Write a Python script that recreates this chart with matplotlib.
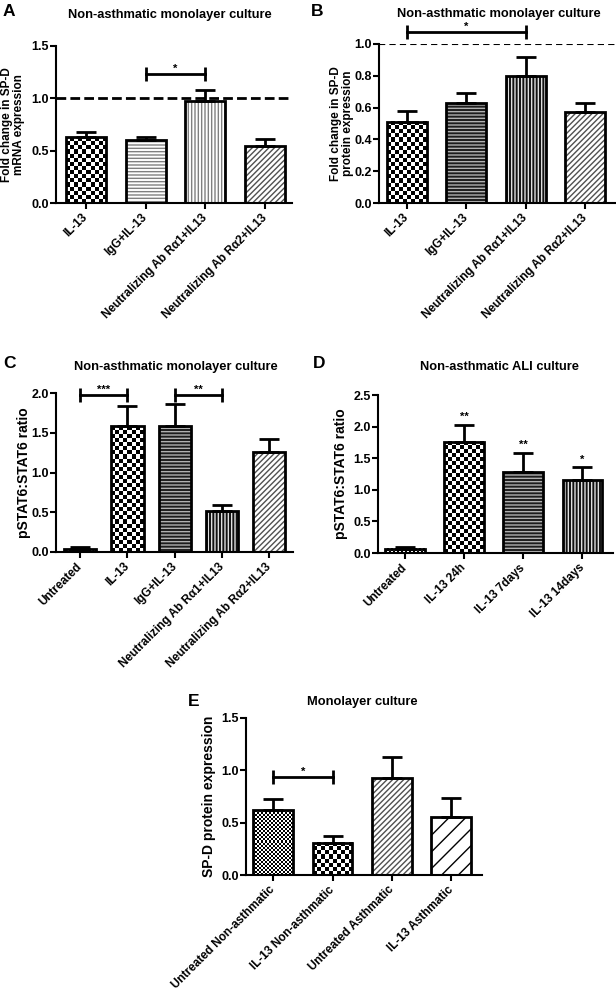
import numpy as np
import matplotlib
matplotlib.use('Agg')
import matplotlib.pyplot as plt

plt.rcParams['font.family'] = ['Liberation Sans', 'DejaVu Sans']
plt.rcParams['font.weight'] = 'bold'
plt.rcParams['axes.labelweight'] = 'bold'
plt.rcParams['hatch.linewidth'] = 1.0

LARGURA, ALTURA = 616, 992  # tamanho da figura em pixels

# --- dados ---
rotulos_a = ['IL-13', 'IgG+IL-13', 'Neutralizing Ab R\u03b11+IL13', 'Neutralizing Ab R\u03b12+IL13']
valores_a = [0.63, 0.60, 0.97, 0.54]
erros_a = [0.05, 0.03, 0.11, 0.07]

rotulos_b = ['IL-13', 'IgG+IL-13', 'Neutralizing Ab R\u03b11+IL13', 'Neutralizing Ab R\u03b12+IL13']
valores_b = [0.51, 0.63, 0.80, 0.57]
erros_b = [0.07, 0.06, 0.12, 0.06]

rotulos_c = ['Untreated', 'IL-13', 'IgG+IL-13', 'Neutralizing Ab R\u03b11+IL13', 'Neutralizing Ab R\u03b12+IL13']
valores_c = [0.04, 1.58, 1.59, 0.52, 1.26]
erros_c = [0.02, 0.26, 0.27, 0.07, 0.16]

rotulos_d = ['Untreated', 'IL-13 24h', 'IL-13 7days', 'IL-13 14days']
valores_d = [0.07, 1.76, 1.28, 1.15]
erros_d = [0.02, 0.27, 0.31, 0.21]
estrelas_d = ['', '**', '**', '*']

rotulos_e = ['Untreated Non-asthmatic', 'IL-13 Non-asthmatic', 'Untreated Asthmatic', 'IL-13 Asthmatic']
valores_e = [0.62, 0.31, 0.93, 0.55]
erros_e = [0.11, 0.06, 0.20, 0.19]

# padroes de preenchimento das barras
ESTILOS = {
    'xadrez': dict(celula=4),
    'xadrez_fino': dict(celula=2),
    'horiz_claro': dict(facecolor='white', hatch='-----', cor='#808080'),
    'vert_claro': dict(facecolor='white', hatch='|||||', cor='#808080'),
    'horiz_escuro': dict(facecolor='#1c1c1c', hatch='-----', cor='#b0b0b0'),
    'vert_escuro': dict(facecolor='#111111', hatch='|||||', cor='#e0e0e0'),
    'diagonal': dict(facecolor='white', hatch='//////', cor='#505050'),
    'diagonal_largo': dict(facecolor='white', hatch='//', cor='black'),
}


def px(x, y):
    # converte pixels (a partir do topo) em fracao da figura
    return x / LARGURA, 1 - y / ALTURA


def criar_eixo(fig, esq, topo, dir, base):
    x0, y0 = px(esq, base)
    x1, y1 = px(dir, topo)
    return fig.add_axes([x0, y0, x1 - x0, y1 - y0])


def preencher_xadrez(ax, barra, celula):
    x0, y0 = barra.get_x(), barra.get_y()
    w, h = barra.get_width(), barra.get_height()
    p0 = ax.transData.transform((x0, y0))
    p1 = ax.transData.transform((x0 + w, y0 + h))
    nx = max(1, int(round((p1[0] - p0[0]) / celula)))
    ny = max(1, int(round((p1[1] - p0[1]) / celula)))
    grade = np.add.outer(np.arange(ny), np.arange(nx)) % 2
    ax.imshow(grade, cmap='gray', vmin=0, vmax=1, extent=(x0, x0 + w, y0, y0 + h),
              origin='lower', interpolation='nearest', aspect='auto', zorder=2)


def desenhar_painel(ax, rotulos, valores, erros, padroes, ylim, yticks, xlim, largura=0.67):
    x = np.arange(len(valores))
    ax.set_xlim(*xlim)
    ax.set_ylim(*ylim)
    for i in range(len(valores)):
        estilo = ESTILOS[padroes[i]]
        if 'celula' in estilo:
            barra = ax.bar(x[i], valores[i], largura, color='white', linewidth=0, zorder=1)[0]
            preencher_xadrez(ax, barra, estilo['celula'])
        else:
            ax.bar(x[i], valores[i], largura, color=estilo['facecolor'], edgecolor=estilo['cor'],
                   hatch=estilo['hatch'], linewidth=0, zorder=2)
        ax.bar(x[i], valores[i], largura, fill=False, edgecolor='black', linewidth=2, zorder=4)
    ax.errorbar(x, valores, yerr=[np.zeros(len(erros)), erros], fmt='none', ecolor='black',
                elinewidth=2, capsize=7.5, capthick=2, zorder=3)
    ax.set_xlim(*xlim)
    ax.set_ylim(*ylim)
    ax.set_yticks(yticks)
    ax.set_yticklabels([f'{t:.1f}' for t in yticks], fontsize=9)
    ax.set_xticks(x)
    ax.set_xticklabels(rotulos, rotation=45, ha='right', va='center', rotation_mode='anchor',
                       fontsize=8.5)
    ax.spines['top'].set_visible(False)
    ax.spines['right'].set_visible(False)
    for lado in ['left', 'bottom']:
        ax.spines[lado].set_linewidth(1.5)
    ax.tick_params(direction='out', length=4.3, width=1.5)
    ax.tick_params(axis='y', pad=1)
    ax.tick_params(axis='x', pad=5)


def rotulo_y(ax, texto, centro_px, esq_px, larg_px, tamanho):
    # coloca o titulo do eixo y na posicao medida no grafico original
    ax.set_ylabel(texto, fontsize=tamanho, fontweight='bold', va='center', ha='center',
                  linespacing=1.0)
    ax.yaxis.set_label_coords((centro_px - esq_px) / larg_px, 0.5)


def colchete(ax, x1, x2, y, texto):
    # linha de significancia com pontas verticais
    ax.plot([x1, x2], [y, y], color='black', lw=2, marker='|', markersize=10, mew=2,
            clip_on=False, zorder=5)
    ax.text((x1 + x2) / 2, y, texto, ha='center', va='bottom', fontsize=8, clip_on=False)


fig = plt.figure(figsize=(LARGURA / 100, ALTURA / 100), dpi=100)

# painel A
ax_a = criar_eixo(fig, 56, 46, 292, 203)
desenhar_painel(ax_a, rotulos_a, valores_a, erros_a,
                ['xadrez', 'horiz_claro', 'vert_claro', 'diagonal'],
                (0, 1.5), [0.0, 0.5, 1.0, 1.5], (-0.5, 3.45))
ax_a.axhline(1.0, color='black', lw=2, ls=(0, (3.5, 1.5)), zorder=5)
colchete(ax_a, 1, 2, 1.23, '*')
rotulo_y(ax_a, 'Fold change in SP-D\nmRNA expression', 13, 56, 236, 8.5)

# painel B
ax_b = criar_eixo(fig, 379, 44, 615, 203)
desenhar_painel(ax_b, rotulos_b, valores_b, erros_b,
                ['xadrez', 'horiz_escuro', 'vert_escuro', 'diagonal'],
                (0, 1.0), [0.0, 0.2, 0.4, 0.6, 0.8, 1.0], (-0.47, 3.5))
ax_b.axhline(1.0, color='black', lw=1.5, ls=(0, (3, 2)), zorder=5)
colchete(ax_b, 0, 2, 1.075, '*')
rotulo_y(ax_b, 'Fold change in SP-D\nprotein expression', 342, 379, 236, 8.5)

# painel C
ax_c = criar_eixo(fig, 56, 393, 293, 552)
desenhar_painel(ax_c, rotulos_c, valores_c, erros_c,
                ['vert_escuro', 'xadrez', 'horiz_escuro', 'vert_escuro', 'diagonal'],
                (0, 2.0), [0.0, 0.5, 1.0, 1.5, 2.0], (-0.51, 4.5), largura=0.68)
colchete(ax_c, 0, 1, 1.975, '***')
colchete(ax_c, 2, 3, 1.975, '**')
rotulo_y(ax_c, 'pSTAT6:STAT6 ratio', 24, 56, 237, 10)

# painel D
ax_d = criar_eixo(fig, 378, 395, 613, 553)
desenhar_painel(ax_d, rotulos_d, valores_d, erros_d,
                ['xadrez_fino', 'xadrez', 'horiz_escuro', 'vert_escuro'],
                (0, 2.5), [0.0, 0.5, 1.0, 1.5, 2.0, 2.5], (-0.46, 3.52))
for i, s in enumerate(estrelas_d):
    if s:
        ax_d.text(i, valores_d[i] + erros_d[i] + 0.04, s, ha='center', va='bottom', fontsize=8)
rotulo_y(ax_d, 'pSTAT6:STAT6 ratio', 341, 378, 235, 10)

# painel E
ax_e = criar_eixo(fig, 246, 718, 482, 875)
desenhar_painel(ax_e, rotulos_e, valores_e, erros_e,
                ['xadrez_fino', 'xadrez', 'diagonal', 'diagonal_largo'],
                (0, 1.5), [0.0, 0.5, 1.0, 1.5], (-0.46, 3.52))
colchete(ax_e, 0, 1, 0.936, '*')
rotulo_y(ax_e, 'SP-D protein expression', 209, 246, 236, 10)

# titulos e letras dos paineis
titulos = [
    ('A', 3, 12, 'Non-asthmatic monolayer culture', 170, 15),
    ('B', 311, 12, 'Non-asthmatic monolayer culture', 499, 14),
    ('C', 3, 363, 'Non-asthmatic monolayer culture', 176, 367),
    ('D', 313, 363, 'Non-asthmatic ALI culture', 499, 367),
    ('E', 188, 701, 'Monolayer culture', 362, 702),
]
for letra, lx, ly, titulo, tx, ty in titulos:
    fig.text(*px(lx, ly), letra, fontsize=12.5, fontweight='bold', ha='left', va='center')
    fig.text(*px(tx, ty), titulo, fontsize=9.3, fontweight='bold', ha='center', va='center')

fig.savefig('out.png', dpi=100, facecolor='white')
